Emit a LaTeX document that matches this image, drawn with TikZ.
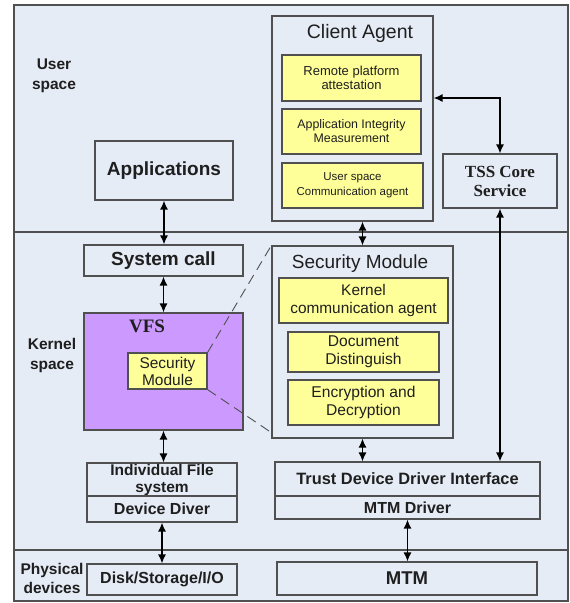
\documentclass[tikz,border=0pt]{standalone}
\usepackage{fontspec}
\setmainfont{Liberation Sans}
\newfontfamily\tmsfont{Liberation Serif}
\usetikzlibrary{arrows.meta}
\definecolor{spaceblue}{HTML}{E6ECF6}
\definecolor{boxyellow}{HTML}{FFFF99}
\definecolor{vfspurple}{HTML}{CC99FF}
\definecolor{edgegrey}{HTML}{505050}

\begin{document}
\begin{tikzpicture}
        [x=1pt,y=-1pt,
         box/.style={draw=edgegrey, line width=1.2pt, fill=spaceblue,
           inner sep=0pt, align=center, text=black!88},
         ybox/.style={box, fill=boxyellow},
         plain/.style={inner sep=0pt, align=center, text=black!88},
         dbl/.style={line width=1.3pt,
           {Latex[length=9pt,width=8pt]}-{Latex[length=9pt,width=8pt]}}]
        \useasboundingbox (0,0) rectangle (570,603);
        \fill[white] (0,0) rectangle (570,603);
        %-----frame and layers
        \draw[edgegrey, line width=1.5pt, fill=spaceblue] (14,5) rectangle (568,601);
        \draw[edgegrey, line width=1.2pt] (14,232) -- (568,232);
        \draw[edgegrey, line width=1.2pt] (14,550) -- (568,550);
        \node[plain, font=\bfseries\fontsize{15.5}{20}\selectfont] (us) at (54,76) {User\\space};
        \node[plain, font=\bfseries\fontsize{15.5}{20}\selectfont] (ks) at (52,355) {Kernel\\space};
        \node[plain, font=\bfseries\fontsize{15.5}{19}\selectfont] (pd) at (52,578) {Physical\\devices};

        %-----user space
        \node[box, minimum width=138pt, minimum height=59pt,
              font=\bfseries\fontsize{19}{22}\selectfont] (app) at (164,170.5) {Applications};
        \node[box, minimum width=161pt, minimum height=205pt] (ca) at (352.5,118.5) {};
        \node[plain, font=\fontsize{19.5}{22}\selectfont] (catitle) at (360,33) {Client Agent};
        \node[ybox, minimum width=139pt, minimum height=46pt,
              font=\fontsize{13}{14}\selectfont] (rpa) at (351.5,78) {Remote platform\\attestation};
        \node[ybox, minimum width=139pt, minimum height=45pt,
              font=\fontsize{12.4}{14}\selectfont] (aim) at (351.5,131.5) {Application Integrity\\Measurement};
        \node[ybox, minimum width=141pt, minimum height=45pt,
              font=\fontsize{11.5}{15}\selectfont] (usc) at (352.5,185.5) {User space\\Communication agent};
        \node[box, minimum width=114pt, minimum height=54pt,
              font=\tmsfont\bfseries\fontsize{17}{19}\selectfont] (tss) at (500,181) {TSS Core\\Service};

        %-----kernel space
        \node[box, minimum width=159pt, minimum height=31pt,
              font=\bfseries\fontsize{19}{22}\selectfont] (sc) at (163.5,260.5) {System call};
        \node[box, fill=vfspurple, minimum width=159pt, minimum height=117pt] (vfs) at (163.5,371.5) {};
        \node[plain, font=\tmsfont\bfseries\fontsize{19}{22}\selectfont] (vfstitle) at (147,326) {VFS};
        \node[ybox, minimum width=79pt, minimum height=36pt,
              font=\fontsize{15.5}{17}\selectfont] (ssm) at (167.5,371) {Security\\Module};
        \node[box, minimum width=181pt, minimum height=192pt] (sm) at (362.5,342) {};
        \node[plain, font=\fontsize{19}{22}\selectfont] (smtitle) at (360,264) {Security Module};
        \node[ybox, minimum width=169pt, minimum height=45pt,
              font=\fontsize{15.4}{18}\selectfont] (kca) at (363.5,300.5) {Kernel\\communication agent};
        \node[ybox, minimum width=151pt, minimum height=40pt,
              font=\fontsize{15.6}{18}\selectfont] (dd) at (363.5,352) {Document\\Distinguish};
        \node[ybox, minimum width=151pt, minimum height=45pt,
              font=\fontsize{15.6}{18}\selectfont] (ed) at (363.5,402.5) {Encryption and\\Decryption};
        \node[box, minimum width=150pt, minimum height=33pt,
              font=\bfseries\fontsize{15.5}{17}\selectfont] (ifs) at (162,479.5) {Individual File\\system};
        \node[box, minimum width=150pt, minimum height=26pt,
              font=\bfseries\fontsize{16}{18}\selectfont] (ddv) at (162,509) {Device Diver};
        \node[box, minimum width=265pt, minimum height=34pt,
              font=\bfseries\fontsize{16.4}{18}\selectfont] (tddi) at (407.5,479) {Trust Device Driver Interface};
        \node[box, minimum width=265pt, minimum height=23pt,
              font=\bfseries\fontsize{16}{18}\selectfont] (mtmd) at (407.5,507.5) {MTM Driver};

        %-----physical devices
        \node[box, minimum width=150pt, minimum height=31pt,
              font=\bfseries\fontsize{16}{18}\selectfont] (disk) at (162,579.5) {Disk/Storage/I/O};
        \node[box, minimum width=260pt, minimum height=33pt,
              font=\bfseries\fontsize{18.5}{20}\selectfont] (mtm) at (407,578.5) {MTM};

        % zoom of the module inside VFS
        \draw[edgegrey, line width=0.9pt, dash pattern=on 10pt off 6pt] (ssm.north east) -- (sm.north west);
        \draw[edgegrey, line width=0.9pt, dash pattern=on 10pt off 6pt] (ssm.south east) -- ([yshift=6pt]sm.south west);

        \coordinate (caport) at (ca.east |- 0,98);
        \draw[dbl] (caport) -| (tss.north);
        \draw[dbl] (tss.south) -- (tss.south |- tddi.north);
        \draw[dbl] (sm.north |- ca.south) -- (sm.north);
        \draw[dbl] (sm.south) -- (sm.south |- tddi.north);
        \draw[dbl] (mtmd.south) -- (mtmd.south |- mtm.north);

        \foreach \from/\to in {app/sc, sc/vfs, vfs/ifs, ddv/disk}
        \draw[dbl] (\from.south) -- (\from.south |- \to.north);
        \end{tikzpicture}
\end{document}
